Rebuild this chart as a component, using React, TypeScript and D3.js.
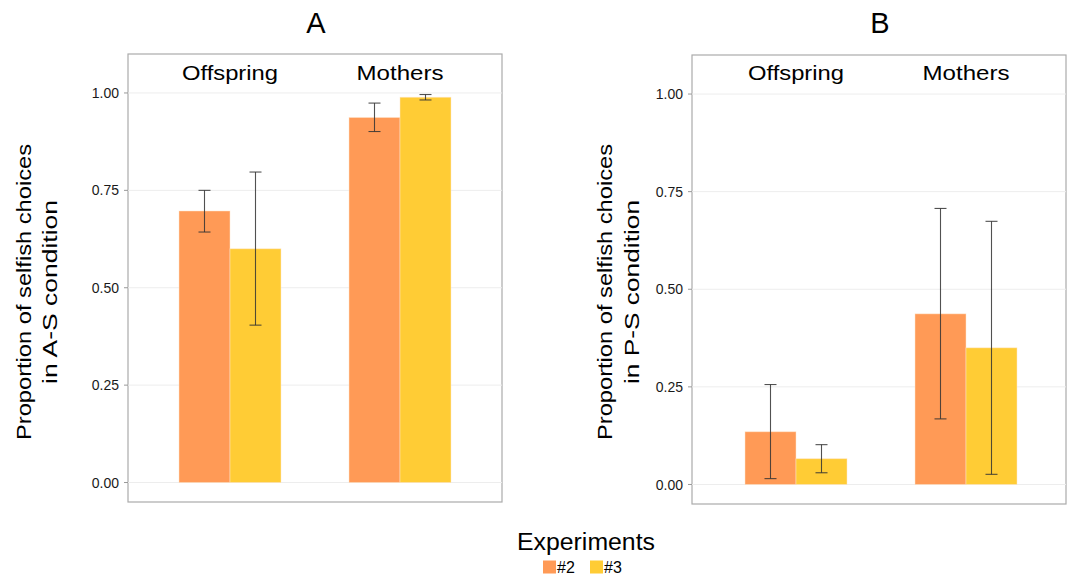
import React from "react";
import * as d3 from "d3";

const categories = ["Offspring", "Mothers"];
const series = ["#2", "#3"];
const colors = ["#FF9A56", "#FFCC35"];
const yTicks = [0, 0.25, 0.5, 0.75, 1.0];

// Panel A (A-S condition)
const meanA2 = [0.697, 0.937];
const lowA2 = [0.643, 0.901];
const highA2 = [0.750, 0.974];
const meanA3 = [0.600, 0.989];
const lowA3 = [0.404, 0.982];
const highA3 = [0.797, 0.996];

// Panel B (P-S condition)
const meanB2 = [0.135, 0.437];
const lowB2 = [0.015, 0.168];
const highB2 = [0.256, 0.707];
const meanB3 = [0.066, 0.350];
const lowB3 = [0.030, 0.026];
const highB3 = [0.102, 0.674];

const FONT = "'Liberation Sans', Arial, Helvetica, sans-serif";

type PanelProps = {
  title: string;
  x0: number;
  x1: number;
  shift: number;
  top: number;
  bottom: number;
  titleLines: string[];
  titleX: number[];
  titleCenterY: number;
  titleLens: number[];
  means: number[][];
  lows: number[][];
  highs: number[][];
};

function Panel(p: PanelProps) {
  const x = d3.scaleLinear().domain([0.4, 2.6]).range([p.x0 + p.shift, p.x1 + p.shift]);
  const y = d3.scaleLinear().domain([-0.05, 1.1]).range([p.bottom, p.top]);
  const barW = 0.3;
  const capHalf = 6;
  const cx = (p.x0 + p.x1) / 2;
  return (
    <g>
      <text x={cx + 1} y={33} fontSize={29} fontFamily={FONT} textAnchor="middle" fill="#000">
        {p.title}
      </text>
      <rect x={p.x0} y={p.top} width={p.x1 - p.x0} height={p.bottom - p.top} fill="#fff" stroke="#ABABAB" strokeWidth={1.2} />
      {yTicks.map((t) => (
        <g key={t}>
          <line x1={p.x0} x2={p.x1} y1={y(t)} y2={y(t)} stroke="#EDEDED" strokeWidth={1} />
          <line x1={p.x0 - 4} x2={p.x0} y1={y(t)} y2={y(t)} stroke="#999" strokeWidth={1} />
          <text x={p.x0 - 9} y={y(t)} dy="0.36em" fontSize={14} fontFamily={FONT} textAnchor="end" fill="#1a1a1a">
            {d3.format(".2f")(t)}
          </text>
        </g>
      ))}
      {categories.map((c, i) => (
        <text key={c} x={x(i + 1)} y={80} fontSize={21} fontFamily={FONT} textAnchor="middle" fill="#000"
          textLength={c === "Offspring" ? 96 : 87} lengthAdjust="spacingAndGlyphs">
          {c}
        </text>
      ))}
      {series.map((s, si) =>
        categories.map((c, ci) => {
          const left = x(ci + 1 + (si === 0 ? -barW : 0));
          const right = x(ci + 1 + (si === 0 ? 0 : barW));
          const m = p.means[si][ci];
          return (
            <rect key={s + c} x={left} y={y(m)} width={right - left} height={y(0) - y(m)}
              fill={colors[si]} stroke="#FFE6CC" strokeOpacity={0.6} strokeWidth={0.8} />
          );
        })
      )}
      {series.map((s, si) =>
        categories.map((c, ci) => {
          const mid = x(ci + 1 + (si === 0 ? -barW / 2 : barW / 2));
          const lo = y(p.lows[si][ci]);
          const hi = y(p.highs[si][ci]);
          return (
            <g key={"e" + s + c} stroke="#333" strokeOpacity={0.85} strokeWidth={1.1}>
              <line x1={mid} x2={mid} y1={lo} y2={hi} />
              <line x1={mid - capHalf} x2={mid + capHalf} y1={lo} y2={lo} />
              <line x1={mid - capHalf} x2={mid + capHalf} y1={hi} y2={hi} />
            </g>
          );
        })
      )}
      {p.titleLines.map((l, i) => (
        <text key={l} transform={`translate(${p.titleX[i]},${p.titleCenterY}) rotate(-90)`}
          fontSize={21} fontFamily={FONT} textAnchor="middle" dy="0.35em" fill="#000"
          textLength={p.titleLens[i]} lengthAdjust="spacingAndGlyphs">
          {l}
        </text>
      ))}
    </g>
  );
}

export default function App() {
  return (
    <svg width={1073} height={577} style={{ position: "absolute", left: 0, top: 0, background: "#fff" }}>
      <rect x={0} y={0} width={1073} height={577} fill="#fff" />
      <Panel title="A" x0={128} x1={502} shift={0} top={54} bottom={502}
        titleLines={["Proportion of selfish choices", "in A-S condition"]}
        titleX={[24, 50]} titleCenterY={292} titleLens={[296, 184]}
        means={[meanA2, meanA3]} lows={[lowA2, lowA3]} highs={[highA2, highA3]} />
      <Panel title="B" x0={692} x1={1066} shift={2} top={55} bottom={504}
        titleLines={["Proportion of selfish choices", "in P-S condition"]}
        titleX={[605, 632]} titleCenterY={292} titleLens={[296, 184]}
        means={[meanB2, meanB3]} lows={[lowB2, lowB3]} highs={[highB2, highB3]} />
      <text x={586} y={550} fontSize={23} fontFamily={FONT} textAnchor="middle" fill="#000"
        textLength={138} lengthAdjust="spacingAndGlyphs">Experiments</text>
      {series.map((s, i) => (
        <g key={s}>
          <rect x={543 + i * 47} y={560.5} width={13} height={13} fill={colors[i]} />
          <text x={557 + i * 47} y={573} fontSize={16} fontFamily={FONT} fill="#000">{s}</text>
        </g>
      ))}
    </svg>
  );
}
